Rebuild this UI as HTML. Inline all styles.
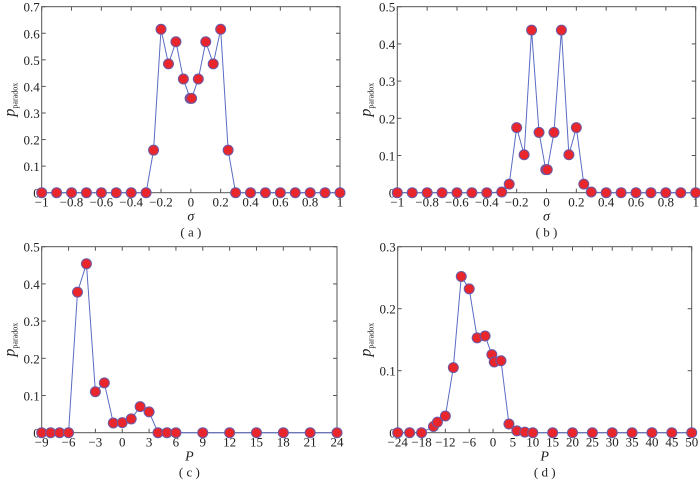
<!DOCTYPE html>
<html><head><meta charset="utf-8"><style>
body{margin:0;background:#fff}
svg{display:block;font-family:"Liberation Serif",serif}
</style></head><body>
<svg id="s" width="700" height="481" viewBox="0 0 700 481"></svg>
<script>
const aX=[-1,-0.9,-0.8,-0.7,-0.6,-0.5,-0.4,-0.3,-0.25,-0.2,-0.15,-0.1,-0.05,-0.005,0.005,0.05,0.1,0.15,0.2,0.25,0.3,0.4,0.5,0.6,0.7,0.8,0.9,1];
const aY=[0,0,0,0,0,0,0,0,0.16,0.615,0.485,0.568,0.428,0.355,0.355,0.428,0.568,0.485,0.615,0.16,0,0,0,0,0,0,0,0];
const bX=aX;
const bY=[0,0,0,0,0,0,0,0.002,0.023,0.175,0.102,0.437,0.162,0.062,0.062,0.162,0.437,0.102,0.175,0.023,0.002,0,0,0,0,0,0,0];
const cX=[-9,-8,-7,-6,-5,-4,-3,-2,-1,0,1,2,3,4,5,6,9,12,15,18,21,24];
const cY=[0,0,0,0,0.378,0.454,0.11,0.134,0.026,0.027,0.037,0.07,0.056,0,0,0,0,0,0,0,0,0];
const dX=[-24,-21,-18,-15,-14,-12,-10,-8,-6,-4,-2,-0.3,0.3,2,4,6,8,10,15,20,25,30,35,40,45,50];
const dY=[0,0,0,0.01,0.017,0.027,0.105,0.252,0.232,0.153,0.156,0.126,0.114,0.116,0.014,0.003,0.001,0,0,0,0,0,0,0,0,0];
const sigTicks=[-1,-0.8,-0.6,-0.4,-0.2,0,0.2,0.4,0.6,0.8,1];
const sigLabels=["−1","−0.8","−0.6","−0.4","−0.2","0","0.2","0.4","0.6","0.8","1"];
const cTicks=[-9,-6,-3,0,3,6,9,12,15,18,21,24];
const cLabels=["−9","−6","−3","0","3","6","9","12","15","18","21","24"];
const dTicks=[-24,-18,-12,-6,0,5,10,15,20,25,30,35,40,45,50];
const dLabels=["−24","−18","−12","−6","0","5","10","15","20","25","30","35","40","45","50"];
const aYT=[0,0.1,0.2,0.3,0.4,0.5,0.6,0.7];
const aYL=["0","0.1","0.2","0.3","0.4","0.5","0.6","0.7"];
const bYT=[0,0.1,0.2,0.3,0.4,0.5];
const bYL=["0","0.1","0.2","0.3","0.4","0.5"];
const dYT=[0,0.1,0.2,0.3];
const dYL=["0","0.1","0.2","0.3"];
const NS="http://www.w3.org/2000/svg";
const svg=document.getElementById('s');
function mk(t,a,p){const e=document.createElementNS(NS,t);for(const k in a)e.setAttribute(k,a[k]);(p||svg).appendChild(e);return e;}
function panel(id,L,R,T,B,x0,x1,y0,y1,xs,ys,xt,xl,yt,yl,xname,cap){
  const g=mk('g',{});
  
  
  const X=v=>L+(v-x0)/(x1-x0)*(R-L), Y=v=>B-(v-y0)/(y1-y0)*(B-T);
  const fr=mk('rect',{x:L,y:T,width:R-L,height:B-T,fill:'none',stroke:'#555','stroke-width':1},g);
  
  
  xt.forEach((v,i)=>{const x=X(v);
    mk('line',{x1:x,x2:x,y1:B,y2:B-4,stroke:'#555'},g);mk('line',{x1:x,x2:x,y1:T,y2:T+4,stroke:'#555'},g);
    const t=mk('text',{x:x,y:B+14,'text-anchor':'middle','font-size':13,fill:'#222'},g);t.textContent=xl[i];
    
    });
  yt.forEach((v,i)=>{const y=Y(v);
    mk('line',{x1:L,x2:L+4,y1:y,y2:y,stroke:'#555'},g);mk('line',{x1:R,x2:R-4,y1:y,y2:y,stroke:'#555'},g);
    const t=mk('text',{x:L-2,y:y+5,'text-anchor':'end','font-size':13,fill:'#222'},g);t.textContent=yl[i];
    
    });
  const pl=mk('polyline',{points:xs.map((v,i)=>X(v)+','+Y(ys[i])).join(' '),fill:'none',stroke:'#5a6cc4','stroke-width':1},g);
  
  
  xs.forEach((v,i)=>{const c=mk('circle',{cx:X(v),cy:Y(ys[i]),r:5,fill:'#e8262b',stroke:'#6a5aa8','stroke-width':1},g);
    
    });
  const yl2=mk('text',{transform:`translate(${L-27},${(T+B)/2}) rotate(-90)`,'text-anchor':'middle','font-size':14,fill:'#222'},g);
  yl2.innerHTML='<tspan font-style="italic" font-size="16">p</tspan><tspan font-size="8" dy="3">paradox</tspan>';
  
  
  const xl2=mk('text',{x:(L+R)/2,y:B+28,'text-anchor':'middle','font-size':14,'font-style':'italic',fill:'#222'},g);xl2.textContent=xname;
  
  
  const cp=mk('text',{x:(L+R)/2,y:B+44,'text-anchor':'middle','font-size':13,fill:'#222'},g);cp.textContent='( '+cap+' )';
  
  
}
panel('a',41.7,340,6.7,192.7,-1,1,0,0.7,aX,aY,sigTicks,sigLabels,aYT,aYL,'σ','a');
panel('b',397.3,695.7,6.7,192.7,-1,1,0,0.5,bX,bY,sigTicks,sigLabels,bYT,bYL,'σ','b');
panel('c',41.7,337,246.7,432.7,-9,24,0,0.5,cX,cY,cTicks,cLabels,bYT,bYL,'P','c');
panel('d',397.7,691.7,246.7,432.7,-24,50,0,0.3,dX,dY,dTicks,dLabels,dYT,dYL,'P','d');
</script>
</body></html>
